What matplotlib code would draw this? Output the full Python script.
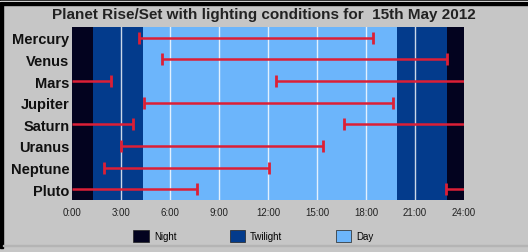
import matplotlib
matplotlib.use("Agg")
import matplotlib.pyplot as plt
from matplotlib.patches import Patch, Rectangle

# -------------------------------
# Data (hours)
# -------------------------------
planets = ["Mercury", "Venus", "Mars", "Jupiter", "Saturn", "Uranus", "Neptune", "Pluto"]
rise_h = [4.12, 5.49, 12.51, 4.43, 16.65, 2.98, 1.96, 22.88]
set_h = [18.45, 22.98, 2.39, 19.68, 3.75, 15.39, 12.06, 7.67]

# lighting periods: (start, end, kind)
light_start = [0.0, 1.29, 4.33, 19.88, 22.94]
light_end = [1.29, 4.33, 19.88, 22.94, 24.0]
light_kind = ["Night", "Twilight", "Day", "Twilight", "Night"]

tick_hours = [0, 3, 6, 9, 12, 15, 18, 21, 24]
tick_labels = ["0:00", "3:00", "6:00", "9:00", "12:00", "15:00", "18:00", "21:00", "24:00"]
grid_hours = [3, 6, 9, 12, 15, 18, 21]

title = "Planet Rise/Set with lighting conditions for  15th May 2012"

COLORS = {"Night": "#03031f", "Twilight": "#033b8c", "Day": "#6cb5fb"}
RED = "#dc1f36"
BG = "#c6c6c6"

plt.rcParams["font.family"] = ["Liberation Sans", "DejaVu Sans"]

fig = plt.figure(figsize=(5.28, 2.53), dpi=100, facecolor=BG)
ax = fig.add_axes([72 / 528, 1 - 201 / 253, 392 / 528, 173 / 253])

# frame around the picture
fig.patches.append(Rectangle((0, 1 - 1.5 / 253), 1, 1.5 / 253, transform=fig.transFigure,
                             color="black", zorder=0))
fig.patches.append(Rectangle((0, 1 - 3 / 253), 1, 1.5 / 253, transform=fig.transFigure,
                             color="white", zorder=0))
fig.patches.append(Rectangle((0, 1 - 5.5 / 253), 1, 2.5 / 253, transform=fig.transFigure,
                             color="black", zorder=0))
fig.patches.append(Rectangle((0, 4 / 253), 3 / 528, 1 - 9.5 / 253, transform=fig.transFigure,
                             color="black", zorder=0))
fig.patches.append(Rectangle((3 / 528, 6 / 253), 1, 1 / 253, transform=fig.transFigure,
                             color="#b4b4b4", zorder=0))

# lighting background
for s, e, k in zip(light_start, light_end, light_kind):
    ax.axvspan(s, e, color=COLORS[k], lw=0, zorder=0)

for h in grid_hours:
    ax.axvline(h, color="white", lw=1.0, alpha=0.8, zorder=1)

# rise/set bars
for i, (r, s) in enumerate(zip(rise_h, set_h)):
    if r < s:
        segs = [(r, s)]
        caps = [r, s]
    else:
        segs = [(0, s), (r, 24)]
        caps = [s, r]
    for a, b in segs:
        ax.hlines(i, a, b, color=RED, lw=1.8, zorder=3)
    ax.plot(caps, [i] * len(caps), ls="none", marker="|", ms=8, mew=2, color=RED, zorder=3)

ax.set_xlim(0, 24)
ax.set_ylim(len(planets) - 0.5, -0.5)
ax.set_yticks(range(len(planets)))
ax.set_yticklabels(planets, fontsize=10.5, fontweight="bold", color="#111111")
ax.set_xticks(tick_hours)
ax.set_xticklabels(tick_labels, fontsize=7, color="#222222")
ax.tick_params(length=0, pad=5)
ax.tick_params(axis="y", pad=2)
for sp in ax.spines.values():
    sp.set_visible(False)

fig.text(0.5, 1 - 15 / 253, title, ha="center", va="center", fontsize=11, fontweight="bold",
         color="#222222")

handles = [Patch(facecolor=COLORS[k], edgecolor="#222222", lw=0.5, label=k)
           for k in ["Night", "Twilight", "Day"]]
fig.legend(handles=handles, loc="center", bbox_to_anchor=(0.48, 1 - 237 / 253), ncol=3,
           frameon=False, fontsize=7, handlelength=1.6, handleheight=1.6,
           columnspacing=5.5, handletextpad=0.5)

fig.savefig("out.png", dpi=100, facecolor=BG)
